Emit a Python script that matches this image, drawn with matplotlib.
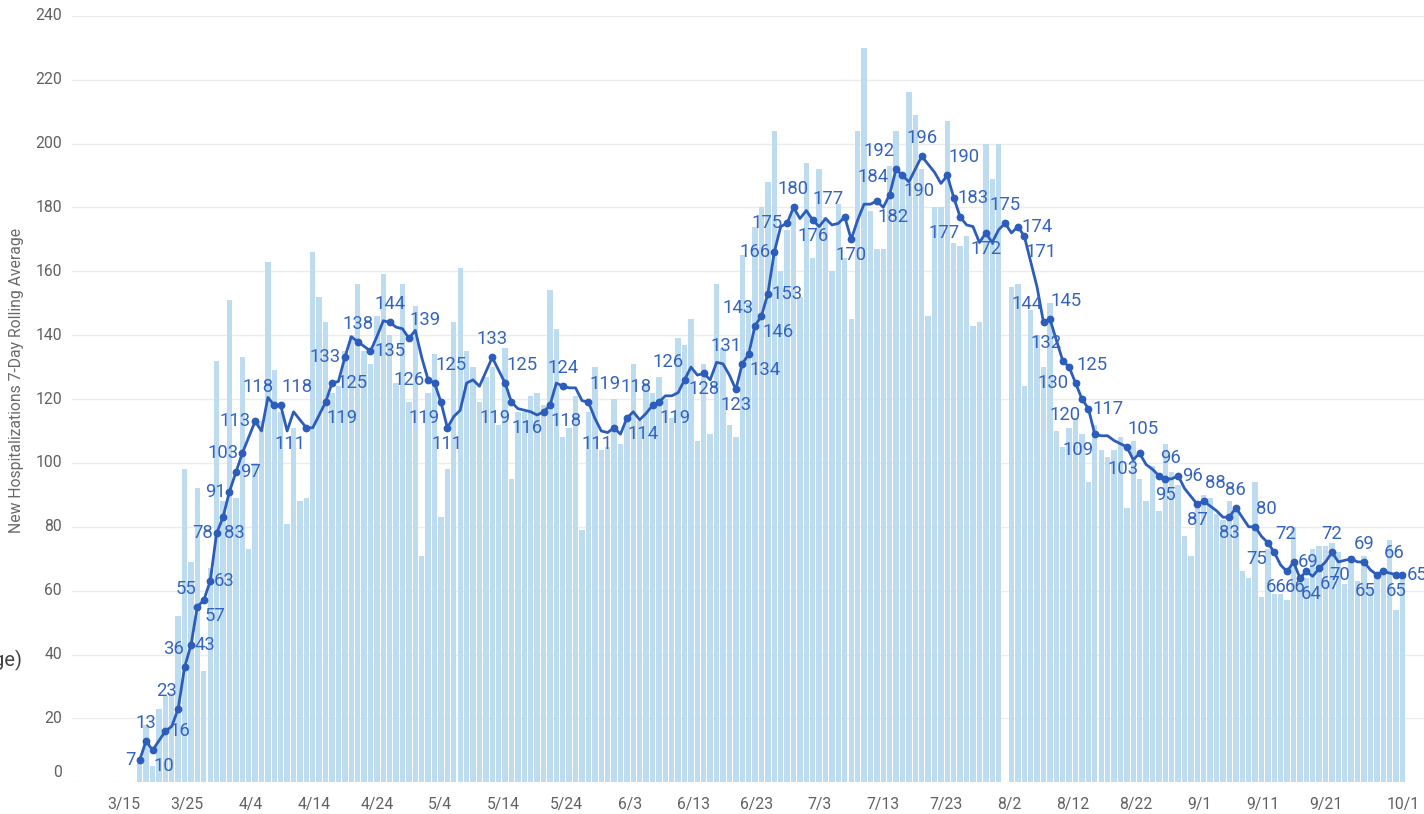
import numpy as np
import matplotlib
matplotlib.use("Agg")
import matplotlib.pyplot as plt
import matplotlib.transforms as mtransforms

plt.rcParams['font.family'] = ['Roboto', 'DejaVu Sans']

# Daily new hospitalizations, one value per day starting 3/18 (nan = no report)
daily_new = [
    7, 18, 5, 23, 27, 28, 52, 98, 69, 92,
    35, 67, 132, 88, 151, 89, 133, 73, 100, 113,
    163, 129, 116, 81, 111, 88, 89, 166, 152, 144,
    122, 124, 135, 140, 156, 135, 131, 146, 159, 140,
    125, 156, 119, 149, 71, 122, 134, 83, 98, 144,
    161, 135, 130, 119, 127, 130, 112, 136, 95, 116,
    116, 121, 122, 118, 154, 142, 108, 111, 121, 79,
    116, 130, 104, 105, 120, 106, 114, 131, 113, 124,
    122, 127, 120, 114, 139, 137, 145, 107, 131, 109,
    156, 136, 112, 108, 165, 150, 174, 180, 188, 204,
    160, 173, 180, 152, 194, 164, 192, 177, 160, 181,
    164, 145, 204, 230, 179, 167, 167, 193, 204, 190,
    216, 209, 192, 146, 180, 180, 207, 169, 168, 171,
    143, 144, 200, 189, 200, np.nan, 155, 156, 124, 148,
    140, 130, 150, 110, 105, 111, 114, 109, 94, 112,
    104, 102, 104, 108, 86, 107, 95, 88, 99, 85,
    106, 97, 93, 77, 71, 88, 90, 89, 84, 82,
    88, 85, 66, 64, 94, 58, 73, 59, 59, 57,
    80, 64, 64, 73, 74, 74, 75, 72, 62, 71,
    63, 71, 61, 65, 65, 76, 54, 65,
]

# 7-day rolling average of new hospitalizations
rolling_avg = [
    7, 13, 10, 13, 16, 17.5, 23, 36, 43, 55,
    57, 63, 78, 83, 91, 97, 103, 108, 113, 110,
    120.5, 118, 118, 110, 116, 113.5, 111, 111, 115, 119,
    125, 125.5, 133, 139.5, 138, 136.5, 135, 139.5, 144.5, 144,
    142.5, 142, 139, 141.5, 133, 126, 125, 119, 111, 114.5,
    116.5, 125, 126, 124, 128.5, 133, 129, 125, 119, 117,
    116.5, 116, 115, 116, 118, 125, 124, 123.5, 123.5, 119.5,
    119, 114, 110, 109.5, 111, 109, 114, 116, 113.5, 115.5,
    118, 119, 121, 121, 122, 126, 130, 127.5, 128, 126,
    131.5, 131, 127.5, 123, 131, 134, 143, 146, 153, 166,
    174, 175, 180, 176.5, 179, 176, 174, 176.5, 174.5, 175,
    177, 170, 176, 181, 181, 182, 180, 184, 192, 190,
    188, 192, 196, 193.5, 191, 187.5, 190, 183, 177, 174.5,
    174, 169, 172, 169, 173, 175, 172, 174, 171, 163,
    155, 144, 145, 138.5, 132, 130, 125, 120, 117, 109,
    108.5, 108.5, 107, 106, 105, 101, 103, 99.5, 98, 96,
    95, 95, 96, 92, 89.5, 87, 88, 86.5, 85, 83,
    83, 86, 83, 80, 80, 77, 75, 72, 68, 66,
    69, 64, 66, 64.5, 67, 69, 72, 69, 69.5, 70,
    69, 69, 66.5, 65, 66, 65.5, 65, 65,
]

# Axis tick labels
y_ticks = list(range(0, 241, 20))
x_tick_labels = ['3/15', '3/25', '4/4', '4/14', '4/24', '5/4', '5/14', '5/24',
                 '6/3', '6/13', '6/23', '7/3', '7/13', '7/23', '8/2', '8/12',
                 '8/22', '9/1', '9/11', '9/21', '10/1']

# Which rolling-average points carry a value label, and where the label sits
label_place = {
    0: 'L', 1: 'A', 2: 'BR', 4: 'R', 6: 'AL', 7: 'AL', 8: 'R', 9: 'AL', 10: 'BR',
    11: 'R', 12: 'L', 13: 'BR', 14: 'L', 15: 'R', 16: 'L', 18: 'L', 21: 'AL',
    22: 'AR', 26: 'BL', 29: 'BR', 30: 'R', 32: 'L', 34: 'A', 36: 'R', 39: 'A',
    42: 'AR', 45: 'L', 46: 'AR', 47: 'BL', 48: 'B', 55: 'A', 57: 'AR', 58: 'BL',
    63: 'BL', 64: 'BR', 66: 'A', 70: 'AR', 74: 'BL', 76: 'BR', 80: 'AL', 81: 'BR',
    85: 'AL', 88: 'B', 93: 'B', 94: 'AL', 95: 'BR', 96: 'AL', 97: 'BR', 98: 'R',
    99: 'L', 101: 'L', 102: 'A', 105: 'B', 110: 'AL', 111: 'B', 115: 'BR',
    117: 'AL', 118: 'AL', 119: 'BR', 122: 'A', 126: 'AR', 127: 'R', 128: 'BL',
    132: 'B', 135: 'A', 137: 'R', 138: 'BR', 141: 'AL', 142: 'AR', 144: 'AL',
    145: 'BL', 146: 'AR', 147: 'BL', 148: 'R', 149: 'BL', 154: 'AR', 156: 'BL',
    159: 'AR', 160: 'B', 162: 'R', 165: 'B', 166: 'AR', 170: 'B', 171: 'A',
    174: 'AR', 176: 'BL', 177: 'AR', 179: 'BL', 180: 'R', 181: 'BR', 182: 'BL',
    184: 'BR', 186: 'A', 189: 'BL', 191: 'A', 193: 'BL', 194: 'AR', 196: 'B',
    197: 'R',
}

# ---- geometry (pixels of a 1424 x 814 canvas) ----
W, H = 1424, 814
x_first_px, y_zero_px = 139.7, 782.3
px_per_day, px_per_unit = 6.41, 3.194
left_px = 72

fig = plt.figure(figsize=(W / 100, H / 100), dpi=100)
ax = fig.add_axes([left_px / W, (H - y_zero_px) / H,
                   (W - left_px) / W, 240 * px_per_unit / H])
ax.set_xlim((left_px - x_first_px) / px_per_day, (W - x_first_px) / px_per_day)
ax.set_ylim(0, 240)
ax.axis('off')

days = np.arange(len(daily_new))
bar_vals = np.array(daily_new, dtype=float)
avg_vals = np.array(rolling_avg, dtype=float)

BAR = '#bddcef'
LINE = '#2d5dbb'
LABEL = '#3464bf'
GRID = '#ececec'
TICK = '#616161'

# horizontal grid
for v in y_ticks[1:]:
    ax.axhline(v, color=GRID, lw=1.0, zorder=0)
ax.axhline(0, color='#c9c9c9', lw=0.8, ls=(0, (2.5, 2)), zorder=0)

# daily bars
ok = ~np.isnan(bar_vals)
ax.bar(days[ok], bar_vals[ok], width=0.84, color=BAR, linewidth=0, zorder=1)

# rolling average line
ax.plot(days, avg_vals, color=LINE, lw=2.0, zorder=3, solid_joinstyle='round')
lab_idx = sorted(label_place)
ax.plot(lab_idx, avg_vals[lab_idx], 'o', ms=4.6, color=LINE, zorder=4)

# value labels
pt = 0.72  # points per pixel
offsets = {
    'A': (0, 18, 'center'), 'B': (0, -16, 'center'),
    'L': (-4, 0, 'right'), 'R': (4, 0, 'left'),
    'AL': (-1, 18, 'right'), 'AR': (1, 18, 'left'),
    'BL': (-1, -16, 'right'), 'BR': (1, -16, 'left'),
}
for i in lab_idx:
    dx, dy, ha = offsets[label_place[i]]
    ax.annotate(f"{avg_vals[i]:.0f}", (i, avg_vals[i]),
                xytext=(dx * pt, dy * pt), textcoords='offset points',
                ha=ha, va='center', fontsize=13.3, color=LABEL, zorder=5,
                annotation_clip=False)

# y tick labels
ytr = mtransforms.blended_transform_factory(ax.transAxes, ax.transData)
for v in y_ticks:
    off = mtransforms.ScaledTranslation(0, (10 if v == 0 else 0) / 100, fig.dpi_scale_trans)
    ax.text((62 - left_px) / (W - left_px), v, str(v), transform=ytr + off,
            ha='right', va='center', fontsize=11.3, color=TICK)

# x tick labels
xtr = mtransforms.blended_transform_factory(ax.transData, ax.transAxes)
y_lab = -(804 - y_zero_px) / (240 * px_per_unit)
for k, lab in enumerate(x_tick_labels):
    px = 1403 if k == len(x_tick_labels) - 1 else 124 + 63.26 * k
    ax.text((px - x_first_px) / px_per_day, y_lab, lab, transform=xtr,
            ha='center', va='center', fontsize=11.3, color=TICK, clip_on=False)

# axis title and clipped legend text at the left edge
fig.text(17 / W, 1 - 380 / H, 'New Hospitalizations 7-Day Rolling Average',
         rotation=90, ha='center', va='center', fontsize=11.3, color='#6a6a6a')
fig.text(22 / W, 1 - 660 / H, 'ge)', ha='right', va='center', fontsize=14.5,
         color='#444444')

fig.savefig('out.png', dpi=100)
